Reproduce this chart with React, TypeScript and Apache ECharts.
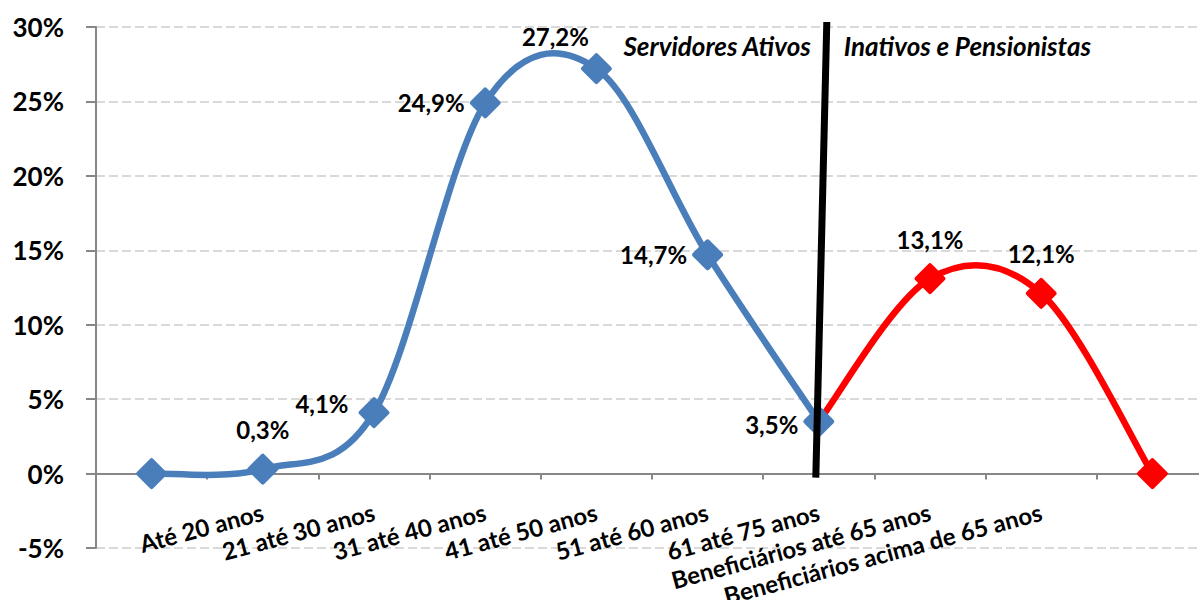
import React, { useEffect, useRef } from "react";
import * as echarts from "echarts";

const categories = [
  "",
  "Até 20 anos",
  "21 até 30 anos",
  "31 até 40 anos",
  "41 até 50 anos",
  "51 até 60 anos",
  "61 até 75 anos",
  "Beneficiários até 65 anos",
  "Beneficiários acima de 65 anos",
  "",
];
const ativos: (number | null)[] = [0, 0.3, 4.1, 24.9, 27.2, 14.7, 3.5, null, null, null];
const inativos: (number | null)[] = [null, null, null, null, null, null, 3.5, 13.1, 12.1, 0];
const yMin = -5;
const yMax = 30;
const yStep = 5;
const dividerIndex = 6;
const leftTitle = "Servidores Ativos";
const rightTitle = "Inativos e Pensionistas";

// label placement per point: [position, dx, dy] or null for no label
const ativosLabelPlace: ([string, number, number] | null)[] = [
  null,
  ["top", 0, -7],
  ["left", -5, -9],
  ["left", 0, 0],
  ["top", -41, 0],
  ["left", 0, 0],
  ["left", 0, 3],
  null,
  null,
  null,
];
const inativosLabelPlace: ([string, number, number] | null)[] = [
  null, null, null, null, null, null, null,
  ["top", 0, -7],
  ["top", 0, -7],
  null,
];

const FONT = "Lato";
const BLUE = "#4A7EBB";
const RED = "#FF0000";
const LINE_W = 6.5;
const SYMBOL = 27;

const fmt = (v: number) => v.toFixed(1).replace(".", ",") + "%";

function buildData(values: (number | null)[], place: ([string, number, number] | null)[], hideSymbolAt: number[]) {
  return values.map((v, i) => {
    const p = place[i];
    const item: any = { value: v };
    if (hideSymbolAt.includes(i)) item.symbol = "none";
    if (p) {
      item.label = {
        show: true,
        position: p[0],
        offset: [p[1], p[2]],
        formatter: (d: any) => fmt(d.value),
      };
    } else {
      item.label = { show: false };
    }
    return item;
  });
}

// Excel-style smoothed curve (Catmull-Rom Bezier) drawn through the axis scales
function curveSeries(values: (number | null)[], color: string, z: number) {
  return {
    type: "custom",
    data: [[0, 0]],
    silent: true,
    z,
    renderItem: (_params: any, api: any) => {
      const pts: number[][] = [];
      values.forEach((v, i) => {
        if (v !== null) pts.push(api.coord([i, v]));
      });
      let d = `M${pts[0][0]},${pts[0][1]}`;
      for (let i = 0; i < pts.length - 1; i++) {
        const p0 = pts[Math.max(i - 1, 0)];
        const p1 = pts[i];
        const p2 = pts[i + 1];
        const p3 = pts[Math.min(i + 2, pts.length - 1)];
        const c1 = [p1[0] + (p2[0] - p0[0]) / 6, p1[1] + (p2[1] - p0[1]) / 6];
        const c2 = [p2[0] - (p3[0] - p1[0]) / 6, p2[1] - (p3[1] - p1[1]) / 6];
        d += ` C${c1[0]},${c1[1]} ${c2[0]},${c2[1]} ${p2[0]},${p2[1]}`;
      }
      return {
        type: "path",
        shape: { pathData: d },
        style: { fill: "none", stroke: color, lineWidth: LINE_W, lineCap: "round", lineJoin: "round" },
      };
    },
  };
}

export default function App() {
  const ref = useRef<HTMLDivElement>(null);
  useEffect(() => {
    if (!ref.current) return;
    const chart = echarts.init(ref.current, undefined, { renderer: "svg" });
    const labelStyle = {
      color: "#000",
      fontFamily: FONT,
      fontWeight: "bold" as const,
      fontSize: 24,
    };
    chart.setOption({
      animation: false,
      backgroundColor: "#fff",
      grid: { left: 96, right: -9, top: 27, bottom: 52, outerBoundsMode: "none", containLabel: false },
      xAxis: {
        type: "category",
        data: categories,
        boundaryGap: true,
        axisLine: { show: true, onZero: true, lineStyle: { color: "#878787", width: 2 } },
        axisTick: { show: true, interval: 0, length: 6, lineStyle: { color: "#878787", width: 2 } },
        axisLabel: {
          interval: 0,
          rotate: 15,
          margin: -37,
          color: "#000",
          fontFamily: FONT,
          fontWeight: "bold",
          fontSize: 24,
        },
        splitLine: { show: false },
      },
      yAxis: {
        type: "value",
        min: yMin,
        max: yMax,
        interval: yStep,
        axisLine: { show: true, lineStyle: { color: "#878787", width: 2 } },
        axisTick: { show: true, length: 10, lineStyle: { color: "#878787", width: 2 } },
        axisLabel: {
          margin: 32,
          color: "#000",
          fontFamily: FONT,
          fontWeight: "bold",
          fontSize: 26,
          formatter: (v: number) => `${v}%`,
        },
        splitLine: { show: true, lineStyle: { color: "#d9d9d9", width: 2, type: [9, 4] } },
      },
      series: [
        curveSeries(inativos, RED, 2),
        curveSeries(ativos, BLUE, 3),
        {
          name: "Inativos e Pensionistas",
          type: "line",
          data: buildData(inativos, inativosLabelPlace, [dividerIndex]),
          symbol: "diamond",
          symbolSize: SYMBOL,
          lineStyle: { opacity: 0, width: 0 },
          itemStyle: { color: RED, borderColor: RED, borderWidth: 4, borderJoin: "round" },
          label: { ...labelStyle },
          z: 4,
        },
        {
          name: "Servidores Ativos",
          type: "line",
          data: buildData(ativos, ativosLabelPlace, []),
          symbol: "diamond",
          symbolSize: SYMBOL,
          lineStyle: { opacity: 0, width: 0 },
          itemStyle: { color: BLUE, borderColor: BLUE, borderWidth: 4, borderJoin: "round" },
          label: { ...labelStyle },
          z: 5,
        },
      ],
    });

    const xd = chart.convertToPixel({ xAxisIndex: 0 }, dividerIndex) as number;
    const yTop = chart.convertToPixel({ yAxisIndex: 0 }, yMax) as number;
    const yZero = chart.convertToPixel({ yAxisIndex: 0 }, 0) as number;
    const titleStyle = {
      fill: "#000",
      fontFamily: FONT,
      fontWeight: "bold",
      fontStyle: "italic",
      fontSize: 26,
    };
    chart.setOption({
      graphic: [
        {
          type: "line",
          shape: { x1: xd + 8, y1: yTop - 5, x2: xd - 3, y2: yZero + 4 },
          style: { stroke: "#000", lineWidth: 7 },
          z: 10,
        },
        {
          type: "text",
          x: xd - 8,
          y: yTop + 19,
          style: { ...titleStyle, text: leftTitle, align: "right", verticalAlign: "middle" },
          z: 10,
        },
        {
          type: "text",
          x: xd + 25,
          y: yTop + 19,
          style: { ...titleStyle, text: rightTitle, align: "left", verticalAlign: "middle" },
          z: 10,
        },
      ],
    });

    return () => chart.dispose();
  }, []);
  return (
    <div style={{ position: "fixed", left: 0, top: 0, width: 1199, height: 600, overflow: "hidden", background: "#fff" }}>
      <div ref={ref} style={{ width: 1199, height: 600 }} />
    </div>
  );
}
